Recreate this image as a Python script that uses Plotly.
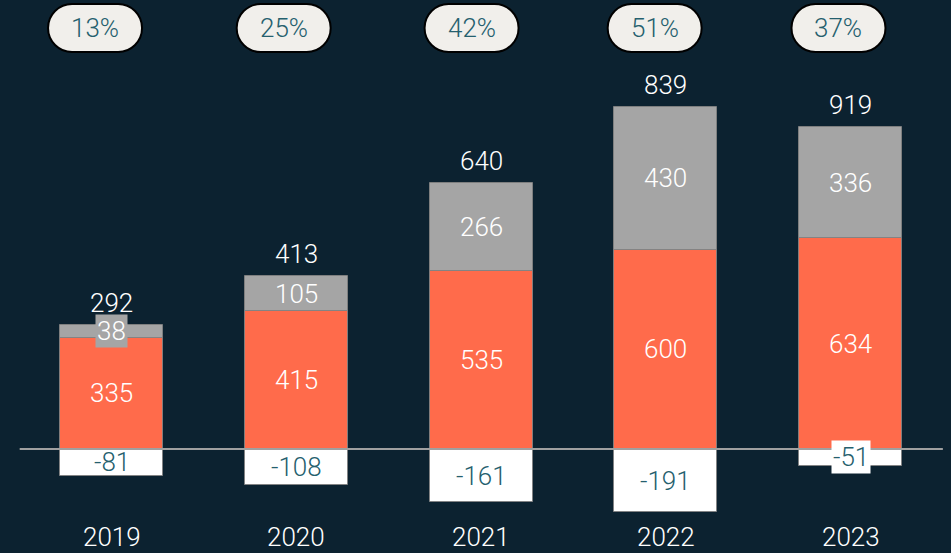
import plotly.graph_objects as go

# Chart data
years = ["2019", "2020", "2021", "2022", "2023"]
core = [335, 415, 535, 600, 634]
other = [38, 105, 266, 430, 336]
negative = [-81, -108, -161, -191, -51]
totals = [292, 413, 640, 839, 919]
shares = ["13%", "25%", "42%", "51%", "37%"]

BG = "#0c2230"
ORANGE = "#ff6b4b"
GRAY = "#a5a5a5"
WHITE = "#ffffff"
TEAL = "#25606e"
PILL = "#f1efeb"
FONT = "Roboto, Liberation Sans, Arial, sans-serif"
FS = 26
WT = 300
SMALL = 60  # segments thinner than this get a label box in their own colour


def txt(color):
    return dict(color=color, size=FS, family=FONT, weight=WT)


xs = list(range(len(years)))
bar_w = 0.5575
edge = dict(color="rgba(130,130,130,0.9)", width=1)

fig = go.Figure()
for vals, col in [(core, ORANGE), (other, GRAY), (negative, WHITE)]:
    fig.add_trace(go.Bar(x=xs, y=vals, width=bar_w, marker=dict(color=col, line=edge),
                         hoverinfo="skip", showlegend=False))


def seg_label(x, y, value, color, fill):
    d = dict(x=x, y=y, text=str(value), showarrow=False, font=txt(color), borderpad=1)
    if abs(value) < SMALL:
        d["bgcolor"] = fill
    return d


ann = []
for i in xs:
    ann.append(seg_label(i, core[i] / 2, core[i], WHITE, ORANGE))
    ann.append(seg_label(i, core[i] + other[i] / 2, other[i], WHITE, GRAY))
    ann.append(seg_label(i, negative[i] / 2, negative[i], TEAL, WHITE))
    # net total above the stack
    ann.append(dict(x=i, y=core[i] + other[i], text=str(totals[i]), showarrow=False,
                    yanchor="bottom", yshift=5, font=txt(WHITE)))
    # year label under the chart
    ann.append(dict(x=i, y=1 - 537 / 553, yref="paper", yanchor="middle", text=years[i],
                    showarrow=False, font=txt(WHITE)))

# percentage pills along the top
pill_dx = [-0.089, -0.068, -0.051, -0.06, -0.065]
pill_y = 1 - 28 / 553
W, H = 94, 48
r = H / 2
a = W / 2 - r
k = 0.5523 * r
pill_path = (
    f"M {-a},{-r} L {a},{-r} "
    f"C {a + k},{-r} {a + r},{-k} {a + r},0 "
    f"C {a + r},{k} {a + k},{r} {a},{r} "
    f"L {-a},{r} "
    f"C {-a - k},{r} {-a - r},{k} {-a - r},0 "
    f"C {-a - r},{-k} {-a - k},{-r} {-a},{-r} Z"
)
shapes = []
for i in xs:
    cx = i + pill_dx[i]
    shapes.append(dict(type="path", xref="x", yref="paper", xsizemode="pixel", ysizemode="pixel",
                       xanchor=cx, yanchor=pill_y, path=pill_path,
                       fillcolor=PILL, line=dict(color="#000000", width=2), layer="above"))
    ann.append(dict(x=cx, y=pill_y, yref="paper", yanchor="middle", text=shares[i],
                    showarrow=False, font=txt(TEAL)))

# zero baseline
shapes.append(dict(type="line", xref="x", yref="y", x0=-0.497, x1=4.5, y0=0, y1=0,
                   line=dict(color="#a0a0a0", width=2), layer="above"))

fig.update_layout(
    width=951, height=553,
    margin=dict(l=0, r=0, t=0, b=0),
    paper_bgcolor=BG, plot_bgcolor=BG,
    barmode="relative", bargap=0,
    xaxis=dict(range=[-0.6035, 4.544], visible=False, fixedrange=True),
    yaxis=dict(range=[-313.2, 1352.2], visible=False, fixedrange=True),
    annotations=ann, shapes=shapes,
)

fig.write_html("out.html")
